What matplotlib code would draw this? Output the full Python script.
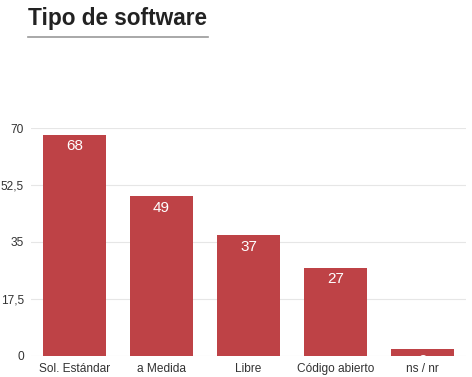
import matplotlib.pyplot as plt
from matplotlib.lines import Line2D

plt.rcParams['font.family'] = ['Liberation Sans', 'DejaVu Sans']

categories = ['Sol. Estándar', 'a Medida', 'Libre', 'Código abierto', 'ns / nr']
values = [68, 49, 37, 27, 2]
ticks = [0, 17.5, 35, 52.5, 70]
tick_labels = ['0', '17,5', '35', '52,5', '70']

bar_color = '#be4246'

fig = plt.figure(figsize=(4.72, 3.77), dpi=100)
ax = fig.add_axes([31 / 472, 1 - 356 / 377, 435 / 472, 228 / 377])

bars = ax.bar(range(len(values)), values, width=0.72, color=bar_color, zorder=2)
for b, v in zip(bars, values):
    t = ax.annotate(str(v), (b.get_x() + b.get_width() / 2, v), xytext=(0, -3),
                    textcoords='offset points', ha='center', va='top',
                    color='white', fontsize=11, zorder=3)
    t.set_clip_path(b)

ax.set_xlim(-0.5, len(values) - 0.5)
ax.set_ylim(0, 70)
ax.set_yticks(ticks)
ax.set_yticklabels(tick_labels)
ax.set_xticks(range(len(values)))
ax.set_xticklabels(categories)
ax.tick_params(length=0, labelsize=8.6, colors='#333333')
ax.tick_params(axis='y', pad=5)
ax.tick_params(axis='x', pad=5)
for s in ax.spines.values():
    s.set_visible(False)
ax.grid(axis='y', color='#e6e6e6', linewidth=0.8, zorder=0)
ax.set_axisbelow(True)

fig.text(28 / 472, 1 - 18 / 377, 'Tipo de software', fontsize=16.3, fontweight='bold',
         color='#222222', ha='left', va='center')
fig.add_artist(Line2D([28 / 472, 208 / 472], [1 - 37 / 377, 1 - 37 / 377],
                      color='#999999', linewidth=1.2))

fig.savefig('out.png', dpi=100)
